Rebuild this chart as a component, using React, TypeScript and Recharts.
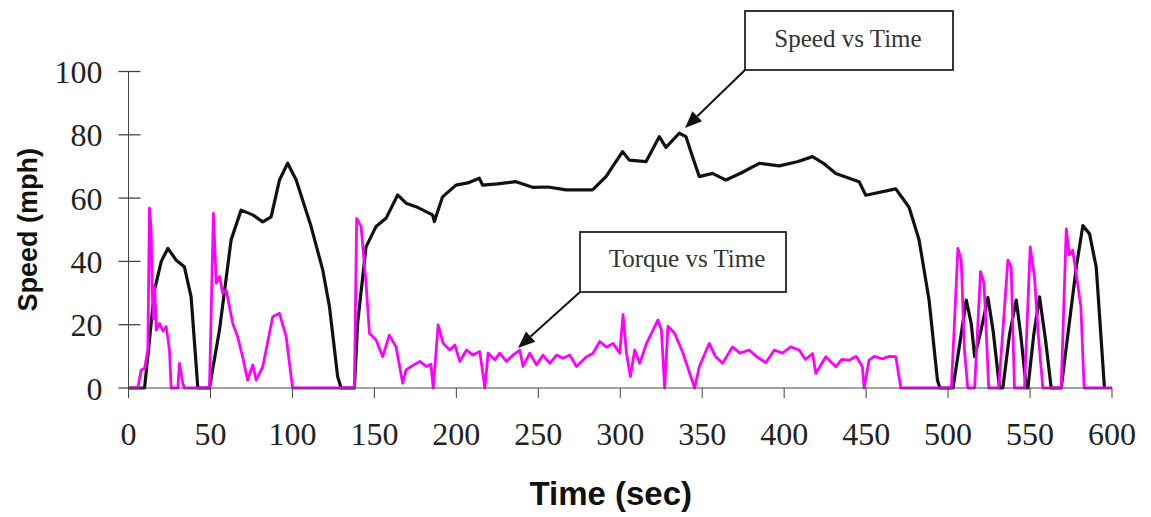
import React from 'react';
import { LineChart, Line, XAxis, YAxis } from 'recharts';

// Speed vs Time (mph)
const speedTime = [0, 9.8, 15.9, 20, 24, 29.1, 34.1, 38.2, 42.3, 49.4, 55.5, 62.6, 68.7, 75.8, 81.9, 87, 92.1, 97.1, 102.3, 111.4, 118.5, 122.6, 127.6, 129.7, 137.8, 139.8, 144.9, 151, 157.1, 164.2, 169.3, 175.4, 185.5, 186.6, 191.6, 199.8, 207, 214, 216, 225, 236.4, 246.5, 256, 266.9, 283.1, 291.3, 301.4, 305.5, 315.7, 323.8, 327.9, 336, 340.1, 344.1, 348.2, 356.3, 364.5, 374, 384.8, 397, 408, 417.3, 424, 431.5, 445.7, 449.8, 468.1, 476.2, 482.3, 488.4, 493.5, 495, 503, 508, 511.1, 514.1, 516.2, 520, 524.3, 527.5, 531.4, 533.4, 537.5, 541.6, 544.5, 547.7, 548.7, 552.3, 555.8, 559.5, 562.9, 569, 578.2, 582.2, 586.3, 590.4, 595.4];
const speedMph = [0, 0, 31, 40, 44.1, 40.4, 38.3, 28.8, 0, 0, 18.3, 46.8, 56.2, 54.7, 52.5, 54.1, 65.7, 71, 65.7, 51, 37.3, 25.7, 3.6, 0, 0, 20.5, 44.6, 51, 53.6, 61, 58.4, 57.3, 54.7, 52.6, 60.4, 64.1, 64.8, 66.3, 64.1, 64.5, 65.2, 63.4, 63.5, 62.6, 62.6, 66.8, 74.7, 72, 71.5, 79.4, 76, 80.5, 79.4, 73.1, 66.8, 67.8, 65.7, 68, 71, 70.2, 71.5, 73.1, 71, 67.8, 65.2, 60.9, 62.9, 57.1, 46.8, 27.8, 2.5, 0, 0, 17, 27.8, 20.4, 9.9, 18, 28.6, 18, 0, 0, 17, 27.8, 16, 0, 0, 17, 28.8, 15, 0, 0, 38.1, 51.3, 48.7, 38.1, 0];

// Torque vs Time
const torqueTime = [0, 5.7, 7.7, 9.8, 11.8, 12.8, 13.8, 14.5, 15.2, 16, 16.9, 18.9, 21, 23, 25, 26, 30.1, 31.1, 33.1, 34.1, 49.4, 51.8, 53, 53.5, 55.5, 57.5, 59.6, 63.6, 66.6, 70, 72.7, 75.8, 77.9, 81.9, 88, 92.1, 96.2, 99.2, 100.2, 137.8, 139.2, 141.9, 144.9, 147, 151, 155.1, 159.1, 163.2, 167.3, 169.3, 173, 177.7, 181.8, 184.5, 185.9, 188.9, 192, 196, 199.1, 202.1, 206.2, 210.2, 214.3, 217.4, 219.4, 223.5, 226.5, 230.6, 234.6, 238.7, 240.7, 244.8, 248.9, 252.9, 257, 261.1, 265.1, 269.2, 273.3, 279.4, 283.4, 287.5, 291.6, 295.6, 299.7, 301.7, 303.8, 306.2, 308.8, 311.9, 316, 320, 323, 325.1, 327.1, 329.1, 333.2, 338.3, 342.4, 345.4, 348.2, 354.3, 358, 362.4, 368.5, 373, 378.7, 383, 388.8, 394, 399, 404, 409.1, 413, 417.3, 419.3, 425.4, 431.5, 435, 439.6, 444, 447.7, 448.8, 451.8, 455, 459.9, 464, 468.1, 471.2, 502, 506, 508, 510, 512, 516.2, 519.8, 521.9, 523.5, 524.8, 530.9, 536.5, 538.5, 540.5, 546.6, 550.1, 552.7, 555, 557.8, 569, 572.1, 574, 576, 579, 581, 583, 600];
const torqueValue = [0, 0, 5.7, 6.2, 12, 56.8, 50, 30, 22, 32, 18.3, 20.4, 18, 19.4, 12, 0, 0, 7.8, 1.5, 0, 0, 55.2, 40, 33.1, 35.2, 29.9, 31, 20.4, 16.2, 9, 2.5, 7.3, 2.5, 6.7, 22.5, 23.6, 16.2, 3.6, 0, 0, 53.6, 51, 33.1, 17.3, 15.2, 9.9, 16.7, 13, 1.5, 5.7, 7, 8.4, 6.8, 7.5, 0, 19.9, 14.1, 12, 13.6, 8.4, 12, 10.4, 11.5, 0, 11, 8.9, 11, 8.4, 10.4, 12, 6.8, 11, 7.3, 10.4, 7.8, 10.4, 9.4, 10.4, 6.8, 9.9, 11, 14.7, 12.9, 14.1, 11, 23.2, 11, 3.6, 12, 7.8, 14.1, 18.3, 21.5, 18.3, 0, 19.5, 17.3, 11, 4.6, 0, 6.7, 14.1, 10, 7.8, 13, 11, 12, 10, 8, 12, 11, 13, 12, 9, 10.9, 4.6, 9.9, 6.7, 9, 8.8, 10, 6.7, 0, 8.8, 10, 9.2, 10, 9.9, 0, 0, 44.1, 40.4, 12, 0, 0, 36.8, 33.1, 15, 0, 0, 40.4, 38.3, 0, 0, 44.6, 35.2, 17, 0, 0, 50.3, 42, 43.6, 33.1, 25.8, 0, 0];

const xTicks = [0, 50, 100, 150, 200, 250, 300, 350, 400, 450, 500, 550, 600];
const yTicks = [0, 20, 40, 60, 80, 100];

const speedData = speedTime.map((t, i) => ({ t, v: speedMph[i] }));
const torqueData = torqueTime.map((t, i) => ({ t, v: torqueValue[i] }));

const SERIF = '"Liberation Serif", "Times New Roman", serif';
const SANS = '"Liberation Sans", Arial, sans-serif';
const AXIS = '#444';

const YTick = (props: any) => {
  const { x, y, payload } = props;
  return (
    <g>
      <line x1={x + 16} x2={x + 38} y1={y} y2={y} stroke={AXIS} strokeWidth={1.3} />
      <text x={x} y={y} dy="0.36em" textAnchor="end" fontFamily={SERIF} fontSize={32} fill="#222">
        {payload.value}
      </text>
    </g>
  );
};

const XTick = (props: any) => {
  const { x, y, payload } = props;
  return (
    <text x={x} y={y} dy="0.71em" textAnchor="middle" fontFamily={SERIF} fontSize={32} fill="#222">
      {payload.value}
    </text>
  );
};

const XTitle = (props: any) => {
  const vb = props.viewBox || { x: 128.5, y: 388, width: 983.5, height: 60 };
  return (
    <text x={vb.x + vb.width / 2 - 9.5} y={vb.y + 117} textAnchor="middle" fontFamily={SANS} fontWeight="bold" fontSize={33} fill="#111">
      Time (sec)
    </text>
  );
};

const YTitle = (props: any) => {
  const vb = props.viewBox || { x: 0, y: 71.5, width: 128.5, height: 316.5 };
  const cx = 37;
  const cy = vb.y + vb.height / 2;
  return (
    <text x={cx} y={cy} transform={`rotate(-90, ${cx}, ${cy})`} textAnchor="middle" fontFamily={SANS} fontWeight="bold" fontSize={27} fill="#111">
      Speed (mph)
    </text>
  );
};

function Arrow({ x1, y1, x2, y2 }: { x1: number; y1: number; y2: number; x2: number }) {
  const dx = x2 - x1;
  const dy = y2 - y1;
  const len = Math.sqrt(dx * dx + dy * dy);
  const ux = dx / len;
  const uy = dy / len;
  const hl = 17;
  const hw = 7;
  const bx = x2 - ux * hl;
  const by = y2 - uy * hl;
  const pts = `${x2},${y2} ${bx - uy * hw},${by + ux * hw} ${bx + uy * hw},${by - ux * hw}`;
  return (
    <g>
      <line x1={x1} y1={y1} x2={bx} y2={by} stroke="#111" strokeWidth={2} />
      <polygon points={pts} fill="#111" />
    </g>
  );
}

function Callout({ x, y, w, h, text, tx, ty, ax, ay }: any) {
  return (
    <g>
      <rect x={x} y={y} width={w} height={h} fill="#fff" stroke="#222" strokeWidth={1.8} />
      <text x={tx} y={ty} textAnchor="middle" fontFamily={SERIF} fontSize={25} fill="#333">
        {text}
      </text>
      <Arrow x1={x} y1={y + h} x2={ax} y2={ay} />
    </g>
  );
}

export default function App() {
  return (
    <div style={{ position: 'absolute', left: 0, top: 0, width: 1151, height: 517, background: '#fff' }}>
      <LineChart width={1151} height={517} margin={{ top: 71.5, right: 39, bottom: 69, left: 0 }}>
        <XAxis
          dataKey="t"
          type="number"
          domain={[0, 600]}
          ticks={xTicks}
          interval={0}
          height={60}
          tickSize={10}
          tickMargin={24}
          stroke={AXIS}
          tick={<XTick />}
          label={(p: any) => <XTitle {...p} />}
        />
        <YAxis
          type="number"
          domain={[0, 100]}
          ticks={yTicks}
          interval={0}
          width={128.5}
          tickSize={10}
          tickMargin={16}
          tickLine={false}
          stroke={AXIS}
          tick={<YTick />}
          label={(p: any) => <YTitle {...p} />}
        />
        <Line data={speedData} dataKey="v" type="linear" stroke="#111" strokeWidth={3.2} strokeLinejoin="round" dot={false} isAnimationActive={false} />
        <Line data={torqueData} dataKey="v" type="linear" stroke="#ff00ff" strokeWidth={2.8} strokeLinejoin="round" dot={false} isAnimationActive={false} />
      </LineChart>
      <svg width={1151} height={517} style={{ position: 'absolute', left: 0, top: 0, pointerEvents: 'none' }}>
        <Callout x={745} y={11} w={208} h={59} text="Speed vs Time" tx={848} ty={47} ax={685} ay={128} />
        <Callout x={580} y={232} w={206} h={60} text="Torque vs Time" tx={687} ty={267} ax={518} ay={348} />
      </svg>
    </div>
  );
}
